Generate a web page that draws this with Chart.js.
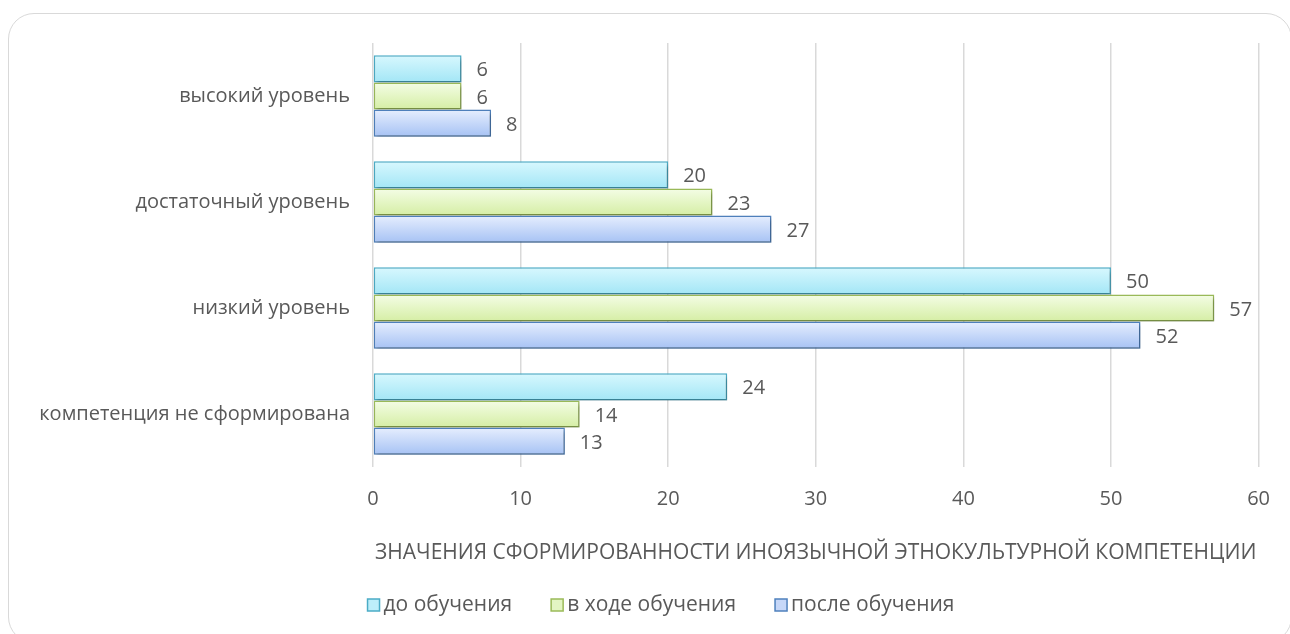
<!DOCTYPE html>
<html>
<head>
<meta charset="utf-8">
<script src="https://cdn.jsdelivr.net/npm/chart.js@4"></script>
<style>
html,body{margin:0;padding:0;background:#fff;}
#wrap{position:relative;width:1290px;height:634px;overflow:hidden;}
#frame{position:absolute;left:8px;top:13px;width:1284px;height:630px;border:1.5px solid #d9d9d9;border-radius:26px;box-sizing:border-box;}
canvas{position:absolute;left:0;top:0;}
</style>
</head>
<body>
<div id="wrap"><div id="frame"></div><canvas id="c" width="1290" height="634"></canvas></div>
<script>
const categories = ['высокий уровень', 'достаточный уровень', 'низкий уровень', 'компетенция не сформирована'];
const seriesNames = ['до обучения', 'в ходе обучения', 'после обучения'];
const beforeValues = [6, 20, 50, 24];
const duringValues = [6, 23, 57, 14];
const afterValues = [8, 27, 52, 13];
const xTicks = [0, 10, 20, 30, 40, 50, 60];
const axisTitle = 'ЗНАЧЕНИЯ СФОРМИРОВАННОСТИ ИНОЯЗЫЧНОЙ ЭТНОКУЛЬТУРНОЙ КОМПЕТЕНЦИИ';

const FONT = "'Open Sans', sans-serif";
const TXT = '#595959';
const styles = [
  {top:'#d8f8fe', bottom:'#a3e6f6', border:'#4bacc6', legend:'#bdeefa'},
  {top:'#f4fde6', bottom:'#d5eea4', border:'#9bbb59', legend:'#e3f5c3'},
  {top:'#e6eefe', bottom:'#a6c2f4', border:'#4f81bd', legend:'#c6d7f8'}
];

const gradPlugin = {
  id: 'gradShadow',
  beforeDatasetsDraw(chart) {
    const ctx = chart.ctx;
    chart.data.datasets.forEach((ds, i) => {
      const meta = chart.getDatasetMeta(i);
      meta.data.forEach(bar => {
        const h = bar.height;
        const g = ctx.createLinearGradient(0, bar.y - h/2, 0, bar.y + h/2);
        g.addColorStop(0, styles[i].top);
        g.addColorStop(1, styles[i].bottom);
        bar.options = Object.assign({}, bar.options, {backgroundColor: g});
      });
    });
    ctx.save();
    ctx.shadowColor = 'rgba(0,0,0,0.28)';
    ctx.shadowBlur = 4;
    ctx.shadowOffsetX = 2;
    ctx.shadowOffsetY = 3;
  },
  afterDatasetsDraw(chart) {
    const ctx = chart.ctx;
    ctx.restore();
    ctx.save();
    ctx.font = '20px ' + FONT;
    ctx.fillStyle = TXT;
    ctx.textAlign = 'left';
    ctx.textBaseline = 'middle';
    chart.data.datasets.forEach((ds, i) => {
      const meta = chart.getDatasetMeta(i);
      meta.data.forEach((bar, j) => {
        ctx.fillText(String(ds.data[j]), bar.x + 15, bar.y + 2);
      });
    });
    ctx.restore();
  },
  afterDraw(chart) {
    // legend drawn from dataset labels
    const ctx = chart.ctx;
    ctx.save();
    ctx.font = '21px ' + FONT;
    ctx.textBaseline = 'middle';
    ctx.textAlign = 'left';
    const box = 12, gapText = 4, gapItem = 39, cy = 605;
    const ds = chart.data.datasets;
    const widths = ds.map(d => ctx.measureText(d.label).width);
    const total = widths.reduce((a, w) => a + w + box + gapText, 0) + gapItem * (ds.length - 1);
    let x = 661 - total / 2;
    ds.forEach((d, i) => {
      ctx.fillStyle = styles[i].legend;
      ctx.fillRect(x, cy - box / 2, box, box);
      ctx.strokeStyle = styles[i].border;
      ctx.lineWidth = 1.5;
      ctx.strokeRect(x, cy - box / 2, box, box);
      ctx.fillStyle = TXT;
      ctx.fillText(d.label, x + box + gapText, cy);
      x += box + gapText + widths[i] + gapItem;
    });
    ctx.restore();
  }
};

const valueSets = [beforeValues, duringValues, afterValues];
new Chart(document.getElementById('c'), {
  type: 'bar',
  data: {
    labels: categories,
    datasets: valueSets.map((vals, i) => ({
      label: seriesNames[i],
      data: vals,
      backgroundColor: styles[i].legend,
      borderColor: styles[i].border,
      borderWidth: 1.5,
      borderSkipped: false,
      categoryPercentage: 0.77,
      barPercentage: 1.0
    }))
  },
  options: {
    indexAxis: 'y',
    responsive: false,
    animation: false,
    layout: {padding: {left: 0, right: 22, top: 43, bottom: 68}},
    scales: {
      x: {
        min: 0, max: 60,
        afterBuildTicks(scale) { scale.ticks = xTicks.map(v => ({value: v})); },
        afterFit(scale) { scale.height = 99; },
        grid: {color: '#d9d9d9', lineWidth: 1.5, drawTicks: false},
        border: {display: false},
        ticks: {color: TXT, font: {family: FONT, size: 20}, padding: 20},
        title: {display: true, text: axisTitle, color: TXT, font: {family: FONT, size: 21}, padding: {top: 10, bottom: 0}}
      },
      y: {
        grid: {display: false},
        border: {display: false},
        afterFit(scale) { scale.width = 373; },
        ticks: {color: TXT, font: {family: FONT, size: 20}, padding: 15}
      }
    },
    plugins: {
      legend: {display: false},
      tooltip: {enabled: false}
    }
  },
  plugins: [gradPlugin]
});
</script>
</body>
</html>
